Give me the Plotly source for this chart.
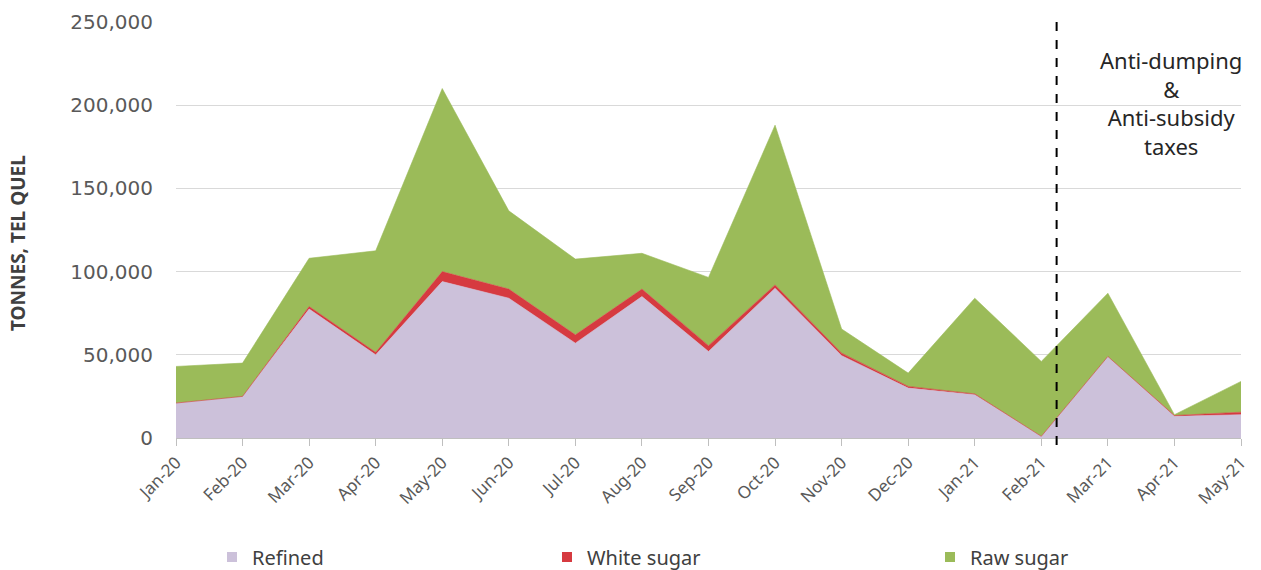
import plotly.graph_objects as go

months = ["Jan-20", "Feb-20", "Mar-20", "Apr-20", "May-20", "Jun-20", "Jul-20", "Aug-20",
          "Sep-20", "Oct-20", "Nov-20", "Dec-20", "Jan-21", "Feb-21", "Mar-21", "Apr-21", "May-21"]
refined = [21000, 25000, 77500, 50000, 94000, 84000, 57000, 85000,
           52000, 90000, 49500, 30000, 26000, 1000, 49000, 13000, 14000]
white_sugar = [0, 0, 1500, 1500, 6000, 5500, 5000, 4500,
               3500, 2000, 1500, 1000, 500, 0, 0, 500, 1500]
raw_sugar = [22000, 20000, 29000, 61000, 110000, 47000, 45500, 21500,
             41000, 96000, 14500, 8000, 57500, 45000, 38000, 500, 18500]

series_names = ["Refined", "White sugar", "Raw sugar"]
colors = ["#CCC1DA", "#D63A40", "#9BBB59"]
y_ticks = [0, 50000, 100000, 150000, 200000, 250000]
policy_pos = 13.23  # position of policy change between Feb-21 and Mar-21

fig = go.Figure()
for name, vals, col in zip(series_names, [refined, white_sugar, raw_sugar], colors):
    fig.add_trace(go.Scatter(
        x=months, y=vals, name=name, stackgroup="one", mode="lines",
        line=dict(width=0.6, color=col), fillcolor=col, showlegend=False,
    ))

legend_ids = ["legend", "legend2", "legend3"]
legend_x = [212 / 1261, 547 / 1261, 930 / 1261]
for name, col, lid in zip(series_names, colors, legend_ids):
    fig.add_trace(go.Scatter(
        x=[None], y=[None], name=name, mode="markers",
        marker=dict(symbol="square", size=10, color=col), legend=lid,
    ))

legend_common = dict(orientation="h", yanchor="middle", yref="container", xref="container",
                     y=1 - 557 / 570, xanchor="left",
                     font=dict(family="Noto Sans", size=20, color="#404040"),
                     bgcolor="rgba(0,0,0,0)")
layout_legends = {}
for lid, lx in zip(legend_ids, legend_x):
    layout_legends[lid] = dict(legend_common, x=lx)

fig.add_shape(type="line", xref="x", yref="paper", x0=policy_pos, x1=policy_pos,
              y0=-0.017, y1=1.0, line=dict(color="black", width=2, dash="dash"))

fig.add_annotation(xref="paper", yref="paper", x=(1171 - 176) / 1065, y=1 - (43 - 22) / 416,
                   yanchor="top", xanchor="center", showarrow=False, align="center",
                   text="Anti-dumping<br>&<br>Anti-subsidy<br>taxes",
                   font=dict(family="Noto Sans", size=22, color="#262626"))

# y-axis title
fig.add_annotation(xref="paper", yref="paper", x=(18 - 176) / 1065, y=(438 - 243) / 416,
                   xanchor="center", yanchor="middle", showarrow=False, textangle=-90,
                   text="<b>TONNES, TEL QUEL</b>",
                   font=dict(family="Noto Sans", size=19, color="#404040"))

fig.update_layout(
    width=1261, height=570,
    margin=dict(l=176, r=20, t=22, b=132, autoexpand=False),
    paper_bgcolor="white", plot_bgcolor="white",
    **layout_legends,
    xaxis=dict(type="category", range=[0, len(months) - 1], tickangle=-45, automargin=False,
               showgrid=False, showline=True, linecolor="#BFBFBF", linewidth=1,
               ticks="outside", ticklen=7, tickcolor="#BFBFBF",
               tickfont=dict(family="Noto Sans", size=17, color="#595959")),
    yaxis=dict(range=[0, 250000], tickvals=y_ticks, tickformat=",d", automargin=False,
               showgrid=True, gridcolor="#D9D9D9", gridwidth=1, zeroline=False,
               showline=False, ticklabelstandoff=22,
               tickfont=dict(family="DejaVu Sans", size=20, color="#595959")),
)

fig.write_html("out.html")
